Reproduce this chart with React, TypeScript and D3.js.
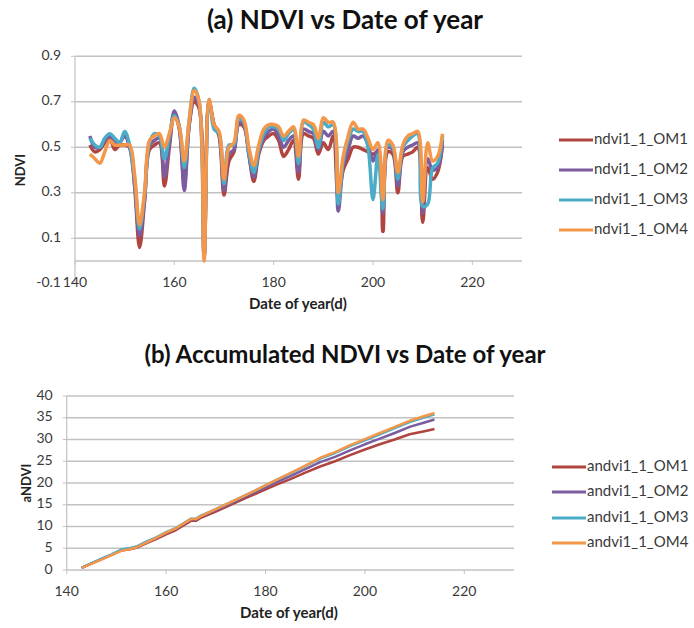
import * as d3 from "d3";

// day of year for panel (a)
const days = [
  143, 144, 145, 146, 147, 148, 149, 150, 151, 152,
  153, 154, 155, 156, 157, 158, 159, 160, 161, 162,
  163, 164, 165, 166, 167, 168, 169, 170, 171, 172,
  173, 174, 175, 176, 177, 178, 179, 180, 181, 182,
  183, 184, 185, 186, 187, 188, 189, 190, 191, 192,
  193, 194, 195, 196, 197, 198, 199, 200, 201, 202,
  203, 204, 205, 206, 207, 208, 209, 210, 211, 212,
  213, 214,
];

const ndviOM1 = [
  0.51, 0.48, 0.49, 0.52, 0.54, 0.49, 0.51, 0.51, 0.5, 0.33,
  0.06, 0.26, 0.49, 0.51, 0.52, 0.33, 0.5, 0.65, 0.58, 0.34,
  0.6, 0.7, 0.67, 0.02, 0.7, 0.6, 0.55, 0.29, 0.44, 0.48,
  0.6, 0.59, 0.47, 0.35, 0.47, 0.53, 0.55, 0.56, 0.53, 0.46,
  0.49, 0.53, 0.36, 0.56, 0.55, 0.54, 0.47, 0.52, 0.49, 0.55,
  0.27, 0.4, 0.45, 0.5, 0.5, 0.49, 0.48, 0.47, 0.48, 0.13,
  0.48, 0.47, 0.3, 0.46, 0.47, 0.48, 0.5, 0.17, 0.41, 0.36,
  0.39, 0.51,
];
const ndviOM2 = [
  0.55, 0.5, 0.5, 0.53, 0.55, 0.52, 0.52, 0.55, 0.5, 0.34,
  0.11, 0.27, 0.51, 0.53, 0.54, 0.37, 0.52, 0.66, 0.59, 0.31,
  0.6, 0.72, 0.68, 0.02, 0.7, 0.6, 0.56, 0.31, 0.47, 0.49,
  0.61, 0.6, 0.47, 0.37, 0.48, 0.54, 0.57, 0.58, 0.55, 0.5,
  0.53, 0.55, 0.39, 0.58, 0.57, 0.56, 0.49, 0.57, 0.55, 0.57,
  0.22, 0.42, 0.49, 0.55, 0.54, 0.55, 0.51, 0.44, 0.49, 0.21,
  0.5, 0.49, 0.33, 0.48, 0.5, 0.51, 0.52, 0.21, 0.45, 0.4,
  0.41, 0.53,
];
const ndviOM3 = [
  0.54, 0.51, 0.5, 0.54, 0.56, 0.54, 0.52, 0.57, 0.51, 0.36,
  0.14, 0.29, 0.52, 0.56, 0.55, 0.45, 0.55, 0.64, 0.59, 0.41,
  0.62, 0.76, 0.7, 0.02, 0.71, 0.58, 0.56, 0.34, 0.51, 0.51,
  0.63, 0.61, 0.48, 0.39, 0.49, 0.56, 0.59, 0.59, 0.58, 0.53,
  0.56, 0.58, 0.43, 0.61, 0.6, 0.58, 0.5, 0.61, 0.59, 0.6,
  0.25, 0.44, 0.53, 0.58, 0.57, 0.57, 0.5, 0.27, 0.47, 0.23,
  0.51, 0.5, 0.36, 0.5, 0.53, 0.55, 0.56, 0.24, 0.25, 0.41,
  0.43, 0.55,
];
const ndviOM4 = [
  0.47, 0.45, 0.43, 0.48, 0.53, 0.51, 0.51, 0.51, 0.51, 0.38,
  0.16, 0.3, 0.53, 0.55, 0.56, 0.5, 0.56, 0.63, 0.59, 0.44,
  0.62, 0.75, 0.7, 0.0, 0.71, 0.6, 0.57, 0.36, 0.5, 0.52,
  0.64, 0.62, 0.5, 0.42, 0.51, 0.58, 0.6, 0.6, 0.59, 0.55,
  0.57, 0.59, 0.46, 0.62, 0.61, 0.6, 0.54, 0.63, 0.61, 0.61,
  0.3, 0.46, 0.55, 0.61, 0.58, 0.58, 0.54, 0.49, 0.52, 0.27,
  0.53, 0.51, 0.39, 0.51, 0.55, 0.56, 0.57, 0.26, 0.52, 0.44,
  0.46, 0.56,
];

// panel (b)
const accDays = [
  143, 145, 147, 149, 151, 153, 154, 156, 158, 160, 162, 164, 165, 166, 167,
  170, 173, 176, 179, 182, 185, 188, 191, 194, 197, 200, 203, 206, 209, 212, 214,
];
const andviOM1 = [
  0.5, 1.5, 2.5, 3.5, 4.5, 4.8, 5.1, 6.1, 7.1, 8.2, 9.2, 10.6, 11.3, 11.3, 12.0,
  13.4, 15.0, 16.5, 18.0, 19.5, 20.9, 22.4, 23.8, 25.0, 26.4, 27.7, 28.9, 30.0, 31.2, 31.9, 32.4,
];
const andviOM2 = [
  0.5, 1.5, 2.5, 3.5, 4.6, 5.0, 5.3, 6.3, 7.3, 8.5, 9.5, 10.9, 11.6, 11.6, 12.3,
  13.8, 15.3, 16.9, 18.5, 20.1, 21.6, 23.2, 24.8, 26.0, 27.5, 28.9, 30.2, 31.5, 32.9, 33.9, 34.6,
];
const andviOM3 = [
  0.5, 1.5, 2.6, 3.6, 4.7, 5.1, 5.4, 6.5, 7.5, 8.7, 9.7, 11.1, 11.8, 11.8, 12.5,
  14.0, 15.6, 17.2, 18.9, 20.6, 22.2, 23.9, 25.6, 26.9, 28.5, 29.8, 31.2, 32.6, 34.0, 35.1, 35.8,
];
const andviOM4 = [
  0.5, 1.4, 2.4, 3.4, 4.4, 4.9, 5.2, 6.3, 7.4, 8.6, 9.6, 11.0, 11.7, 11.7, 12.4,
  14.0, 15.6, 17.2, 18.9, 20.6, 22.3, 24.0, 25.8, 27.1, 28.7, 30.1, 31.5, 32.9, 34.3, 35.4, 36.1,
];

const xTicks = [140, 160, 180, 200, 220];
const yTicksA = ["-0.1", "0.1", "0.3", "0.5", "0.7", "0.9"];
const yTicksB = ["0", "5", "10", "15", "20", "25", "30", "35", "40"];

const namesA = ["ndvi1_1_OM1", "ndvi1_1_OM2", "ndvi1_1_OM3", "ndvi1_1_OM4"];
const namesB = ["andvi1_1_OM1", "andvi1_1_OM2", "andvi1_1_OM3", "andvi1_1_OM4"];
const colors = ["#B0443F", "#7A5C9F", "#4AACC6", "#F4974A"];

const FONT = "Lato, 'Open Sans', sans-serif";
const GRID = "#C2C2C2";
const TXT = "#3a3a3a";

const Panel = ({ title, titleY, titleSize, box, yDomain, yTicks, gridTicks, axisAt, xLabelY, yLabel, yLabelX, xs, series, names, legendY, legendX, curve, lineW, titleX }) => {
  const x = d3.scaleLinear().domain([140, 230]).range([box.left, box.right]);
  const y = d3.scaleLinear().domain(yDomain).range([box.bottom, box.top]);
  const line = d3.line().x((d) => x(d[0])).y((d) => y(d[1])).curve(curve);
  const axisY = y(axisAt);

  return (
    <g fontFamily={FONT}>
      <text x={345} y={titleY} textAnchor="middle" dominantBaseline="middle" fontSize={titleSize} fontWeight="bold" fill="#111">
        {title}
      </text>
      {gridTicks.map((t) => (
        <line key={"g" + t} x1={box.left} x2={box.right} y1={y(t)} y2={y(t)} stroke={GRID} strokeWidth={1.4} />
      ))}
      <line x1={box.left} x2={box.left} y1={box.top} y2={box.bottom} stroke={GRID} strokeWidth={1.2} />
      <line x1={box.left} x2={box.right} y1={axisY} y2={axisY} stroke={GRID} strokeWidth={1.4} />
      {yTicks.map((t) => (
        <g key={"y" + t}>
          <line x1={box.left - 4} x2={box.left} y1={y(+t)} y2={y(+t)} stroke={GRID} />
          <text x={box.left - 14} y={y(+t)} textAnchor="end" dominantBaseline="middle" fontSize={14} fill={TXT}>
            {t}
          </text>
        </g>
      ))}
      {xTicks.map((t) => (
        <g key={"x" + t}>
          <line x1={x(t)} x2={x(t)} y1={axisY} y2={axisY + 4} stroke={GRID} />
          <text x={x(t)} y={xLabelY} textAnchor="middle" dominantBaseline="middle" fontSize={14} fill={TXT}>
            {t}
          </text>
        </g>
      ))}
      <text x={titleX} y={xLabelY + 22} textAnchor="middle" dominantBaseline="middle" fontSize={15} fontWeight="bold" fill="#222">
        Date of year(d)
      </text>
      <text
        transform={`translate(${yLabelX}, ${(box.top + box.bottom) / 2}) rotate(-90)`}
        textAnchor="middle"
        dominantBaseline="middle"
        fontSize={13}
        fontWeight="bold"
        fill="#222"
      >
        {yLabel}
      </text>
      {series.map((s, i) => (
        <path
          key={names[i]}
          d={line(xs.map((d, j) => [d, s[j]]))}
          fill="none"
          stroke={colors[i]}
          strokeWidth={lineW}
          strokeLinejoin="round"
        />
      ))}
      {names.map((n, i) => (
        <g key={"l" + n}>
          <line x1={legendX} x2={legendX + 34} y1={legendY[i]} y2={legendY[i]} stroke={colors[i]} strokeWidth={3} />
          <text x={legendX + 35} y={legendY[i]} dominantBaseline="middle" fontSize={15} fill={TXT}>
            {n}
          </text>
        </g>
      ))}
    </g>
  );
};

export default function App() {
  return (
    <svg width={694} height={628} style={{ position: "absolute", left: 0, top: 0, background: "#fff" }}>
      <Panel
        title="(a) NDVI vs Date of year"
        titleY={22}
        titleSize={26}
        titleX={298}
        box={{ left: 75, right: 522, top: 56.3, bottom: 283.8 }}
        yDomain={[-0.1, 0.9]}
        yTicks={yTicksA}
        gridTicks={[0.1, 0.3, 0.5, 0.7, 0.9]}
        axisAt={0}
        xLabelY={283}
        yLabel="NDVI"
        yLabelX={22}
        xs={days}
        series={[ndviOM1, ndviOM2, ndviOM3, ndviOM4]}
        names={namesA}
        legendY={[140, 170, 200, 230]}
        legendX={559}
        curve={d3.curveCatmullRom.alpha(0.5)}
        lineW={3.5}
      />
      <Panel
        title="(b) Accumulated NDVI vs Date of year"
        titleY={357}
        titleSize={24}
        titleX={289}
        box={{ left: 66.7, right: 514, top: 396, bottom: 570 }}
        yDomain={[0, 40]}
        yTicks={yTicksB}
        gridTicks={[5, 10, 15, 20, 25, 30, 35, 40]}
        axisAt={0}
        xLabelY={592}
        yLabel="aNDVI"
        yLabelX={28}
        xs={accDays}
        series={[andviOM1, andviOM2, andviOM3, andviOM4]}
        names={namesB}
        legendY={[467, 492, 518, 543]}
        legendX={552}
        curve={d3.curveLinear}
        lineW={2.5}
      />
    </svg>
  );
}
